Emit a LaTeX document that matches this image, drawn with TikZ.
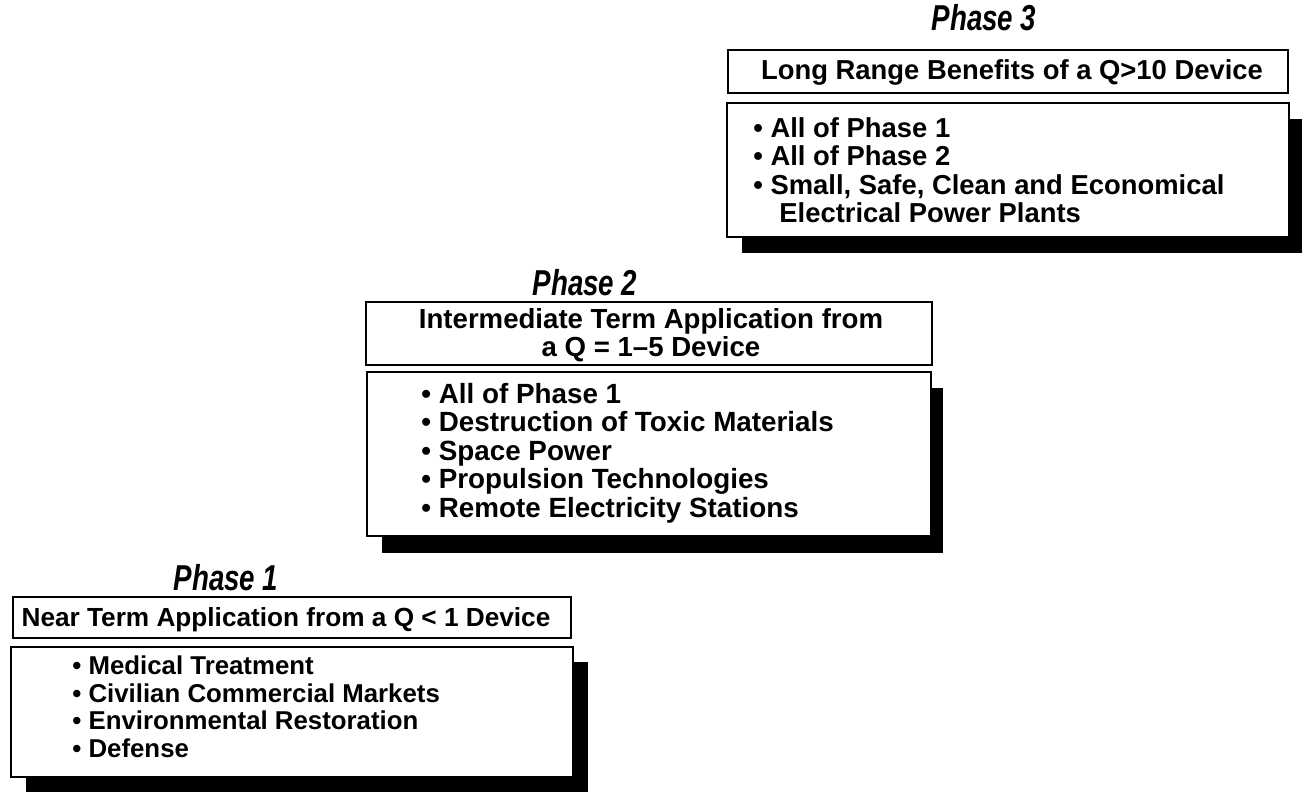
\documentclass[tikz,border=0pt]{standalone}
\usepackage{fontspec}
\setmainfont{Liberation Sans}
\usetikzlibrary{fit}
\begin{document}
\begin{tikzpicture}[x=0.5pt,y=-0.5pt,
  frame/.style={draw=black, line width=0.65pt, fill=white, inner sep=0pt},
  shade/.style={fill=black, draw=none, inner sep=0pt},
  txt/.style={inner sep=0pt, anchor=base west, font=\fontsize{#1}{14.5}\selectfont\bfseries},
  ctxt/.style={inner sep=0pt, anchor=base, font=\fontsize{#1}{14.5}\selectfont\bfseries},
  ttl/.style={inner sep=0pt, font=\fontsize{18}{20}\selectfont\bfseries\itshape}]
\useasboundingbox (0,0) rectangle (1304,792);

% ---------- Phase 3 ----------
\node[ttl] (t3) at (984,18) {\scalebox{0.77}[1]{Phase 3}};
\node[frame, fit={(728,50) (1288,93)}] (h3) {};
\node[ctxt=13.7] (h3a) at (1012,80) {Long Range Benefits of a Q>10 Device};
\node[shade, fit={(742,119) (1302,253)}] (s3) {};
\node[frame, fit={(727,103) (1289,237)}] (b3) {};
\node[txt=13.7] (b3a) at (753,137) {• All of Phase 1};
\node[txt=13.7] (b3b) at (753,165.5) {• All of Phase 2};
\node[txt=13.7] (b3c) at (753,194) {• Small, Safe, Clean and Economical};
\node[txt=13.7] (b3d) at (779,222) {Electrical Power Plants};

% ---------- Phase 2 ----------
\node[ttl] (t2) at (585,283) {\scalebox{0.77}[1]{Phase 2}};
\node[frame, fit={(366,302) (932,365)}] (h2) {};
\node[ctxt=13.8] (h2a) at (651,328) {Intermediate Term Application from};
\node[ctxt=13.8] (h2b) at (651,356) {a Q = 1–5 Device};
\node[shade, fit={(382,388) (943,553)}] (s2) {};
\node[frame, fit={(367,372) (931,536)}] (b2) {};
\node[txt=13.9] (b2a) at (421,403) {• All of Phase 1};
\node[txt=13.9] (b2b) at (421,431.5) {• Destruction of Toxic Materials};
\node[txt=13.9] (b2c) at (421,460) {• Space Power};
\node[txt=13.9] (b2d) at (421,488.5) {• Propulsion Technologies};
\node[txt=13.9] (b2e) at (421,517) {• Remote Electricity Stations};

% ---------- Phase 1 ----------
\node[ttl] (t1) at (226,578) {\scalebox{0.77}[1]{Phase 1}};
\node[frame, fit={(13,597) (571,638)}] (h1) {};
\node[ctxt=13.1] (h1a) at (286,626) {Near Term Application from a Q < 1 Device};
\node[shade, fit={(26,662) (588,792)}] (s1) {};
\node[frame, fit={(11,647) (573,777)}] (b1) {};
\node[txt=12.9] (b1a) at (72,674) {• Medical Treatment};
\node[txt=12.9] (b1b) at (72,702) {• Civilian Commercial Markets};
\node[txt=12.9] (b1c) at (72,729.5) {• Environmental Restoration};
\node[txt=12.9] (b1d) at (72,757) {• Defense};
\end{tikzpicture}
\end{document}
